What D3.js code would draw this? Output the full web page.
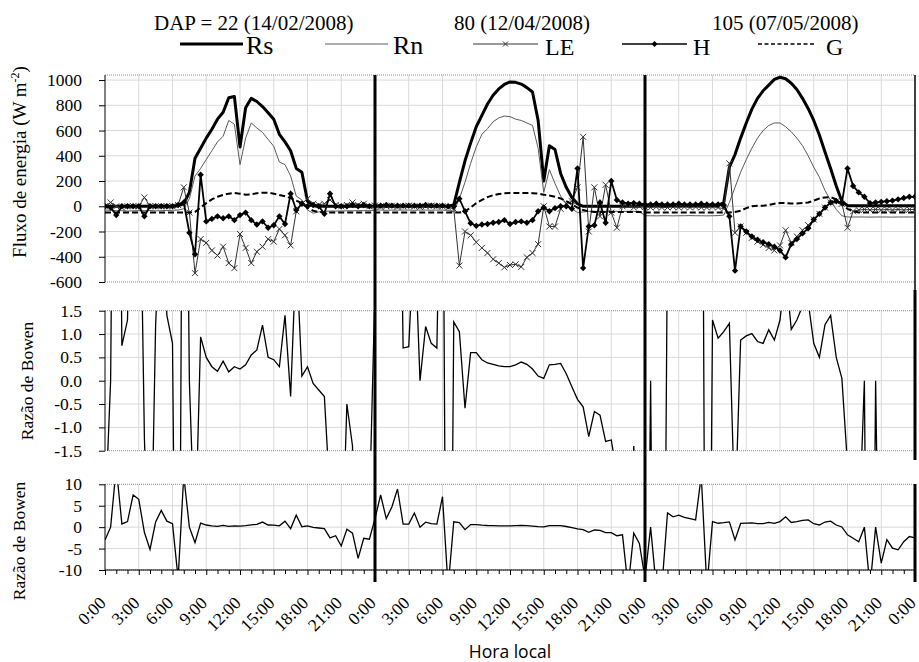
<!DOCTYPE html>
<html>
<head>
<meta charset="utf-8">
<script src="https://d3js.org/d3.v7.min.js"></script>
<style>
  body { margin: 0; background: #fff; }
  svg text { font-family: "Liberation Serif", "Times New Roman", serif; fill: #000; }
</style>
</head>
<body>
<svg id="chart" width="919" height="662"></svg>
<script>
// ---- data: half-hourly values, 0:00 to 23:30 for each day (day 3 also has 24:00) ----
var dayTitles = ["DAP = 22 (14/02/2008)", "80 (12/04/2008)", "105 (07/05/2008)"];
var seriesNames = ["Rs", "Rn", "LE", "H", "G"];

var rs1 = [0,0,0,0,0,0,0,0,0,0,0,0,0,5, 20,110,380,460,540,610,690,745,860,870, 470,780,855,830,790,740,690,570,510,440, 300,270,40,5,0,0,0,0,0,0, 0,0,0,0];
var rs2 = [0,0,0,0,0,0,0,0,0,0,0,0,0,0, 10,190,360,500,630,720,810,880,930,965, 985,982,968,940,905,680,200,480,450,260, 150,70,20,0,0,0,0,0,0,0, 0,0,0,0];
var rs3 = [5,5,5,5,5,5,5,5,5,5,5,5,5,5, 30,310,410,540,660,770,855,915,960,1005, 1022,1010,975,925,855,775,680,565,430,300, 160,40,5,5,5,5,5,5,5,5, 5,5,5,5, 5];

var rn1 = [-30,-32,-35,-35,-38,-36,-35,-35,-34,-36,-35,-33,-32,-30, -20,60,240,300,370,440,510,555,680,650, 330,540,660,620,585,530,475,350,330,240, 80,50,-30,-55,-45,-40,-38,-38,-37,-36, -36,-35,-35,-35];
var rn2 = [-30,-30,-32,-30,-31,-30,-30,-32,-30,-30,-31,-30,-30,-32, -45,60,190,340,470,570,615,670,700,715, 710,690,680,660,640,460,110,290,180,80, 20,-20,-50,-45,-40,-40,-41,-40,-40,-40, -41,-40,-40,-40];
var rn3 = [-75,-75,-76,-75,-75,-76,-75,-75,-74,-75,-75,-76,-75,-74, -70,30,150,270,370,460,540,600,640,660, 660,630,590,540,480,400,310,230,125,45, -25,-75,-85,-85,-85,-85,-86,-85,-85,-85, -86,-85,-85,-85, -85];

var le1 = [0,30,0,-10,0,0,0,70,0,0,0,0,0,10, 150,-50,-530,-260,-290,-350,-390,-320,-450,-490, -220,-330,-450,-360,-320,-260,-280,-180,-230,-310, -40,20,60,20,10,20,50,10,0,10, 30,10,20,0];
var le2 = [5,-5,0,5,-5,0,5,0,-5,0,5,0,0,-10, -20,-470,-200,-230,-285,-330,-370,-420,-450,-484, -465,-460,-480,-405,-370,-300,0,-160,-160,-20, 20,40,150,550,-200,150,-80,170,-50,-170, 0,10,-10,0];
var le3 = [-5,-10,-5,-10,-10,-5,-10,-5,-10,-5,-10,-10,-5,-10, -20,340,-210,-160,-210,-250,-280,-305,-330,-350, -310,-190,-290,-240,-190,-150,-105,-60,-10,30, 40,20,-170,-40,-30,-25,-30,-25,-30,-25, -30,-25,-30,-25, -25];

var h1 = [0,-10,-70,0,0,0,0,-80,0,0,0,0,0,10, 30,-210,-380,250,-120,-100,-80,-95,-80,-110, -70,-50,-110,-145,-120,-170,-150,-80,-140,100, -30,20,0,10,0,-60,100,0,0,0, 10,0,10,0];
var h2 = [5,5,10,5,5,5,5,5,5,10,5,5,5,0, 0,60,-40,-135,-155,-145,-140,-130,-125,-110, -140,-125,-120,-130,-110,-40,-10,-40,-15,0, 0,-20,300,-490,-160,-150,30,-130,200,50, 30,20,25,20];
var h3 = [15,15,20,15,15,15,20,15,15,15,20,15,15,15, 10,-80,-510,-160,-200,-240,-265,-285,-300,-320, -350,-405,-300,-260,-215,-175,-105,-60,-10,30, 40,25,300,160,110,75,25,30,35,40, 45,55,65,75, 75];

var g1 = [-50,-50,-50,-50,-50,-50,-50,-50,-50,-50,-50,-50,-50,-50,-50,-50, -45,-10,25,55,75,90,100,105,100,92, 95,103,107,108,100,90,80,65,45,25, -10,-35,-45,-50, -50,-50,-50,-50,-50,-50,-50,-50];
var g2 = [-50,-50,-50,-50,-50,-50,-50,-50,-50,-50,-50,-50,-50,-50,-50,-50, -40,-10,25,50,72,88,97,103,105,106, 106,105,104,100,92,85,75,62,40,15, -10,-30,-40,-45, -45,-45,-45,-45,-45,-45,-45,-45];
var g3 = [-50,-50,-50,-50,-50,-50,-50,-50,-50,-50,-50,-50,-50,-50,-50,-50, -45,-35,-15,0,5,5,10,20,26,25, 21,22,25,30,45,62,70,72,55,20, -20,-40,-50,-50, -50,-50,-50,-50,-50,-50,-50,-50, -50];

var bowen1 = [-3,0,14,0.75,1.3,7.5,6.5,-1.2,-5.2,1.2, 3.9,1.4,0.8,-12,12,0,-3.6,0.94,0.5,0.3, 0.2,0.42,0.19,0.3,0.25,0.34,0.55,0.66,1.19,0.5, 0.45,0.3,1.4,-0.34,2.8,0.1,0.3,-0.06,-0.2,-0.34, -2.5,-2,-4.4,-0.5,-1.4,-7.3,-2.6,-2.8];
var bowen2 = [2,7.5,2,4.7,8.9,0.7,0.73,3.3,0,1.16, 0.8,0.7,7.1,-14,1.26,1.05,-0.59,0.6,0.6,0.45, 0.38,0.35,0.32,0.3,0.3,0.34,0.4,0.35,0.25,0.1, 0.05,0.34,0.35,0.37,0.15,-0.13,-0.4,-0.56,-1.2,-0.66, -0.74,-1.3,-1.27,-2,-1.8,-14,-1.4,-3.8];
var bowen3 = [-12,0,-14,-14,3.3,2.4,2.8,2.3,2,1.7, 12,-14,1.3,0.91,1.05,1.23,-3,0.87,0.96,1.01, 0.84,0.8,1.09,0.87,1.3,2.4,1.1,1.3,1.6,1.7, 0.8,0.5,1.2,1.4,0.5,0.05,-1.8,-2.6,-3.4,0, -14,0,-8.4,-2.9,-4.9,-5.3,-3.4,-2.2, -2.5];

var fluxTicks = [-600, -400, -200, 0, 200, 400, 600, 800, 1000];
var bowenMidTicks = [-1.5, -1.0, -0.5, 0, 0.5, 1.0, 1.5];
var bowenBotTicks = [-10, -5, 0, 5, 10];
var hourTicks = d3.range(0, 73, 3);

// ---- setup ----
var svg = d3.select("#chart");
var SERIF = "'Liberation Serif', 'Times New Roman', serif";

var x = d3.scaleLinear().domain([0, 72]).range([105, 915]);
var yTop = d3.scaleLinear().domain([-600, 1040]).range([282, 75]);
var yMid = d3.scaleLinear().domain([-1.5, 1.5]).range([450.7, 310.7]);
var yBot = d3.scaleLinear().domain([-10, 10]).range([570, 484.3]);

function pts(arr) { return arr.map(function(v, i) { return { t: i * 0.5, v: v }; }); }

var rs = pts(rs1.concat(rs2, rs3)),
    rn = pts(rn1.concat(rn2, rn3)),
    le = pts(le1.concat(le2, le3)),
    hh = pts(h1.concat(h2, h3)),
    gg = pts(g1.concat(g2, g3)),
    bowen = pts(bowen1.concat(bowen2, bowen3));

var defs = svg.append("defs");
function clip(id, y) {
  var r = y.range();
  defs.append("clipPath").attr("id", id).append("rect")
    .attr("x", 105).attr("y", r[1]).attr("width", 810).attr("height", r[0] - r[1]);
}
clip("cTop", yTop); clip("cMid", yMid); clip("cBot", yBot);

// grids and borders
function grid(y, vals) {
  var r = y.range();
  var g = svg.append("g");
  g.selectAll(".vg").data(hourTicks.filter(function(t) { return t > 0 && t < 72; }))
    .enter().append("line")
    .attr("x1", function(d) { return x(d); }).attr("x2", function(d) { return x(d); })
    .attr("y1", r[0]).attr("y2", r[1])
    .attr("stroke", "#d9d9d9").attr("stroke-width", 1);
  g.selectAll(".hg").data(vals.filter(function(v) { return y(v) > r[1] + 1 && y(v) < r[0] - 1; }))
    .enter().append("line")
    .attr("x1", 105).attr("x2", 915)
    .attr("y1", function(d) { return y(d); }).attr("y2", function(d) { return y(d); })
    .attr("stroke", "#d9d9d9").attr("stroke-width", 1);
  [r[0], r[1]].forEach(function(yy) {
    g.append("line").attr("x1", 105).attr("x2", 915).attr("y1", yy).attr("y2", yy)
      .attr("stroke", "#8c8c8c").attr("stroke-width", 1).attr("stroke-dasharray", "1,1");
  });
}
grid(yTop, fluxTicks);
grid(yMid, bowenMidTicks);
grid(yBot, bowenBotTicks);

// left axes
function leftAxis(y, major, minor, fmt) {
  var g = svg.append("g").attr("transform", "translate(105,0)");
  g.call(d3.axisLeft(y).tickValues(minor).tickSize(6).tickFormat(""));
  g.call(d3.axisLeft(y).tickValues(major).tickSize(6).tickPadding(17).tickFormat(fmt));
  g.attr("font-family", SERIF).attr("font-size", "17.5px");
  g.selectAll(".domain").attr("stroke", "#000");
  g.selectAll(".tick line").attr("stroke", "#000");
  g.selectAll("text").style("font-size", "17.5px").style("font-family", SERIF);
  g.selectAll(".domain").attr("d", "M0," + y.range()[0] + "V" + y.range()[1]);
}
leftAxis(yTop, fluxTicks, d3.range(-500, 1000, 200), function(d) { return String(d); });
leftAxis(yMid, bowenMidTicks, d3.range(-1.25, 1.5, 0.5), function(d) { return d.toFixed(1); });
leftAxis(yBot, bowenBotTicks, d3.range(-7.5, 10, 5), function(d) { return String(d); });

// bottom axis
var xa = svg.append("g").attr("transform", "translate(0,570)");
xa.call(d3.axisBottom(x).tickValues(d3.range(0, 73, 1)).tickSize(4).tickFormat(""));
xa.selectAll(".domain").attr("stroke", "#000").attr("d", "M105,0H915");
xa.selectAll(".tick line").attr("stroke", "#000")
  .attr("y2", function(d) { return d % 3 === 0 ? 5 : 4; });

svg.append("g").selectAll("text").data(hourTicks).enter().append("text")
  .attr("transform", function(d) { return "translate(" + (x(d) + 2) + ",604) rotate(-45)"; })
  .attr("text-anchor", "end")
  .style("font-size", "17.5px").style("font-family", SERIF)
  .text(function(d) { return (d % 24) + ":00"; });

svg.append("text").attr("x", 510).attr("y", 658).attr("text-anchor", "middle")
  .style("font-family", "'Open Sans', 'Noto Sans', sans-serif").style("font-size", "17.5px")
  .text("Hora local");

// ---- top panel series ----
function lineGen(y) {
  return d3.line().x(function(d) { return x(d.t); }).y(function(d) { return y(d.v); });
}
var topG = svg.append("g").attr("clip-path", "url(#cTop)");
topG.append("path").datum(rs).attr("d", lineGen(yTop)).attr("fill", "none")
  .attr("stroke", "#000").attr("stroke-width", 3).attr("stroke-linejoin", "round");
topG.append("path").datum(rn).attr("d", lineGen(yTop)).attr("fill", "none")
  .attr("stroke", "#5a5a5a").attr("stroke-width", 1);
topG.append("path").datum(le).attr("d", lineGen(yTop)).attr("fill", "none")
  .attr("stroke", "#333").attr("stroke-width", 1);
topG.selectAll(".mle").data(le).enter().append("path")
  .attr("transform", function(d) { return "translate(" + x(d.t) + "," + yTop(d.v) + ")"; })
  .attr("d", "M-3,-3L3,3M-3,3L3,-3").attr("stroke", "#333").attr("stroke-width", 1).attr("fill", "none");
topG.append("path").datum(hh).attr("d", lineGen(yTop)).attr("fill", "none")
  .attr("stroke", "#000").attr("stroke-width", 1.8);
topG.selectAll(".mh").data(hh).enter().append("path")
  .attr("transform", function(d) { return "translate(" + x(d.t) + "," + yTop(d.v) + ")"; })
  .attr("d", "M0,-3.2L3.2,0L0,3.2L-3.2,0Z").attr("fill", "#000");
topG.append("path").datum(gg).attr("d", lineGen(yTop)).attr("fill", "none")
  .attr("stroke", "#000").attr("stroke-width", 2).attr("stroke-dasharray", "6,3");

// ---- Bowen panels ----
svg.append("g").attr("clip-path", "url(#cMid)").append("path").datum(bowen)
  .attr("d", lineGen(yMid)).attr("fill", "none").attr("stroke", "#000").attr("stroke-width", 1.3);
svg.append("g").attr("clip-path", "url(#cBot)").append("path").datum(bowen)
  .attr("d", lineGen(yBot)).attr("fill", "none").attr("stroke", "#000").attr("stroke-width", 1.3);

// ---- day separators ----
[24, 48].forEach(function(t) {
  svg.append("line").attr("x1", x(t)).attr("x2", x(t)).attr("y1", 75).attr("y2", 582)
    .attr("stroke", "#000").attr("stroke-width", 3);
});
svg.append("line").attr("x1", x(72)).attr("x2", x(72)).attr("y1", 75).attr("y2", 290)
  .attr("stroke", "#000").attr("stroke-width", 1.5);
[[290, 460], [484, 582]].forEach(function(s) {
  svg.append("line").attr("x1", x(72)).attr("x2", x(72)).attr("y1", s[0]).attr("y2", s[1])
    .attr("stroke", "#000").attr("stroke-width", 3);
});

// ---- axis titles ----
var ft = svg.append("text").attr("transform", "translate(26,162) rotate(-90)")
  .attr("text-anchor", "middle").style("font-size", "19px").style("font-family", SERIF);
ft.append("tspan").text("Fluxo de energia (W m");
ft.append("tspan").attr("dy", -7).style("font-size", "12px").text("-2");
ft.append("tspan").attr("dy", 7).text(")");

svg.append("text").attr("transform", "translate(33,381) rotate(-90)")
  .attr("text-anchor", "middle").style("font-size", "17.5px").style("font-family", SERIF)
  .text("Razão de Bowen");
svg.append("text").attr("transform", "translate(25,541) rotate(-90)")
  .attr("text-anchor", "middle").style("font-size", "17.5px").style("font-family", SERIF)
  .text("Razão de Bowen");

// ---- titles and legend ----
var titleX = [154, 454, 712];
dayTitles.forEach(function(t, i) {
  svg.append("text").attr("x", titleX[i]).attr("y", 29.5)
    .style("font-size", "21px").style("font-family", SERIF).text(t);
});

var leg = svg.append("g");
var legItems = [
  { name: seriesNames[0], x1: 180, x2: 243, tx: 246, size: 26, ty: 54 },
  { name: seriesNames[1], x1: 325, x2: 388, tx: 393, size: 26, ty: 54 },
  { name: seriesNames[2], x1: 473, x2: 538, tx: 545, size: 24, ty: 55 },
  { name: seriesNames[3], x1: 622, x2: 687, tx: 693, size: 24, ty: 55 },
  { name: seriesNames[4], x1: 758, x2: 815, tx: 826, size: 24, ty: 55 }
];
legItems.forEach(function(it, i) {
  var ln = leg.append("line").attr("x1", it.x1).attr("x2", it.x2).attr("y1", 44).attr("y2", 44)
    .attr("stroke", "#000");
  if (i === 0) ln.attr("stroke-width", 3);
  if (i === 1) ln.attr("stroke", "#5a5a5a").attr("stroke-width", 1);
  if (i === 2) ln.attr("stroke", "#333").attr("stroke-width", 1);
  if (i === 3) ln.attr("stroke-width", 1.5);
  if (i === 4) ln.attr("stroke-width", 1.5).attr("stroke-dasharray", "4,2.5");
  var cx = (it.x1 + it.x2) / 2;
  if (i === 2) leg.append("path").attr("transform", "translate(" + cx + ",44)")
    .attr("d", "M-2.5,-2.5L2.5,2.5M-2.5,2.5L2.5,-2.5").attr("stroke", "#333");
  if (i === 3) leg.append("path").attr("transform", "translate(" + cx + ",44)")
    .attr("d", "M0,-3L3,0L0,3L-3,0Z").attr("fill", "#000");
  leg.append("text").attr("x", it.tx).attr("y", it.ty)
    .style("font-size", it.size + "px").style("font-family", SERIF).text(it.name);
});
</script>
</body>
</html>
